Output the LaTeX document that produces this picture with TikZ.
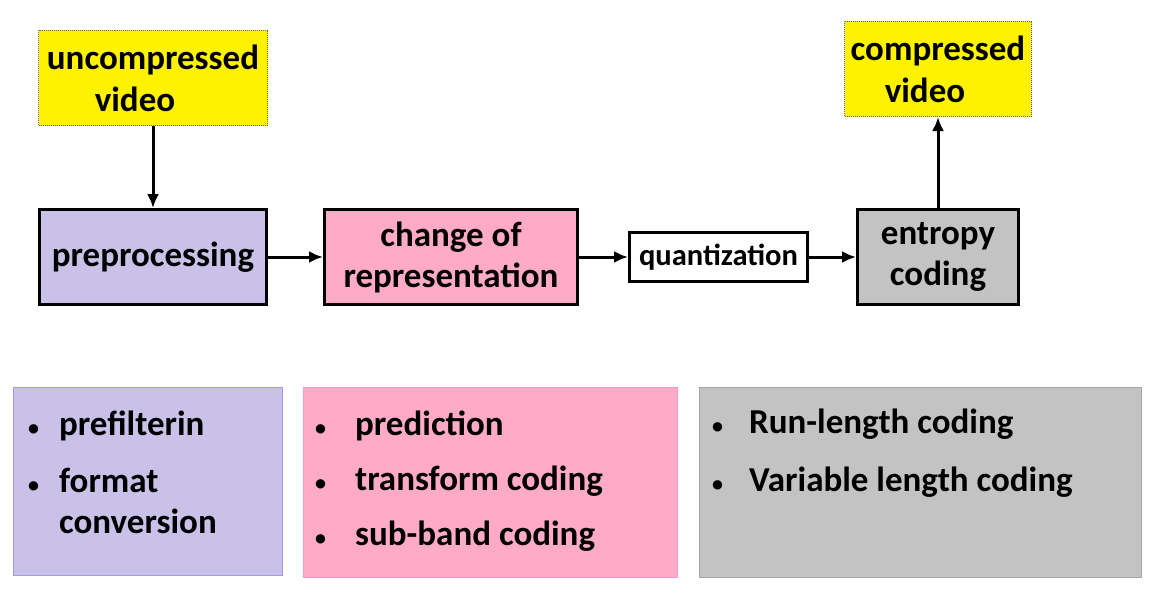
\documentclass[tikz,border=0pt]{standalone}
\usepackage{fontspec}
\setmainfont{Carlito}
\usepackage{xcolor}
\definecolor{lineDark}{HTML}{000000}
\definecolor{videoColor}{HTML}{FFF200}
\definecolor{preColor}{HTML}{CAC1E8}
\definecolor{changeColor}{HTML}{FFABC8}
\definecolor{entropyColor}{HTML}{C3C3C3}
\usetikzlibrary{positioning,arrows.meta}
\tikzset{
  videoBox/.style={
    rectangle,
    draw=gray!80!black,
    densely dotted,
    line width=1pt,
    fill=videoColor,
    minimum height=95pt,
    align=center,
    font=\fontsize{35}{42}\selectfont\bfseries
 },
  stageBox/.style={
    rectangle,
    draw=lineDark,
    line width=3pt,
    minimum height=95pt,
    align=center,
    font=\fontsize{35}{41}\selectfont\bfseries
 },
  listBox/.style={
    rectangle,
    line width=1pt,
    anchor=north west,
    inner sep=0pt
 },
  listText/.style={
    align=left,
    inner sep=0pt,
    font=\fontsize{35}{41}\selectfont\bfseries
 },
  arrowLine/.style={
    -{Latex[length=14pt,width=12pt]},
    line width=3pt,
    color=lineDark
 }
}
\newcommand{\bul}{{\fontsize{22}{22}\selectfont\textbullet}}

\begin{document}
\begin{tikzpicture}[x=1pt,y=-1pt]
  \useasboundingbox (0,0) rectangle (1175,610);

  \node[stageBox, fill=preColor, minimum width=227pt] (pre) at (153,257) {preprocessing};
  \node[stageBox, fill=changeColor, minimum width=253pt, right=55pt of pre] (change) {change of\\representation};
  \node[stageBox, fill=white, minimum width=178pt, minimum height=49pt,
        font=\fontsize{30.5}{36}\selectfont\bfseries, right=49pt of change] (quant) {quantization};
  \node[stageBox, fill=entropyColor, minimum width=161pt, right=47pt of quant] (entropy) {entropy\\coding};

  \node[videoBox, minimum width=229pt, above=82pt of pre] (uncomp) {uncompressed\\video\hspace*{36pt}};
  \node[videoBox, minimum width=187pt, above=91pt of entropy] (comp) {compressed\\video\hspace*{26pt}};

  \draw[arrowLine] (uncomp) -- (pre);
  \draw[arrowLine] (pre) -- (change);
  \draw[arrowLine] (change) -- (quant);
  \draw[arrowLine] (quant) -- (entropy);
  \draw[arrowLine] (entropy) -- (comp);

  % lists of techniques below the stages
  \node[listBox, draw=preColor!80!blue, fill=preColor, minimum width=269pt, minimum height=188pt] (preList) at (13,387) {};
  \node[listBox, draw=magenta!40, fill=changeColor, minimum width=374pt, minimum height=190pt] (changeList) at (303,387) {};
  \node[listBox, draw=gray!70, fill=entropyColor, minimum width=442pt, minimum height=190pt] (entropyList) at (699,387) {};

  \node[listText, below right=20pt and 15pt of preList.north west] (preItems) {%
    \begin{tabular}{@{}l@{\hspace{20pt}}l@{}}
      \bul & prefilterin\\[16pt]
      \bul & format\\
           & conversion
    \end{tabular}};
  \node[listText, below right=20pt and 12pt of changeList.north west] (changeItems) {%
    \begin{tabular}{@{}l@{\hspace{29pt}}l@{}}
      \bul & prediction\\[14pt]
      \bul & transform coding\\[14pt]
      \bul & sub-band coding
    \end{tabular}};
  \node[listText, below right=18pt and 13pt of entropyList.north west] (entropyItems) {%
    \begin{tabular}{@{}l@{\hspace{26pt}}l@{}}
      \bul & Run-length coding\\[17pt]
      \bul & Variable length coding
    \end{tabular}};
\end{tikzpicture}
\end{document}
